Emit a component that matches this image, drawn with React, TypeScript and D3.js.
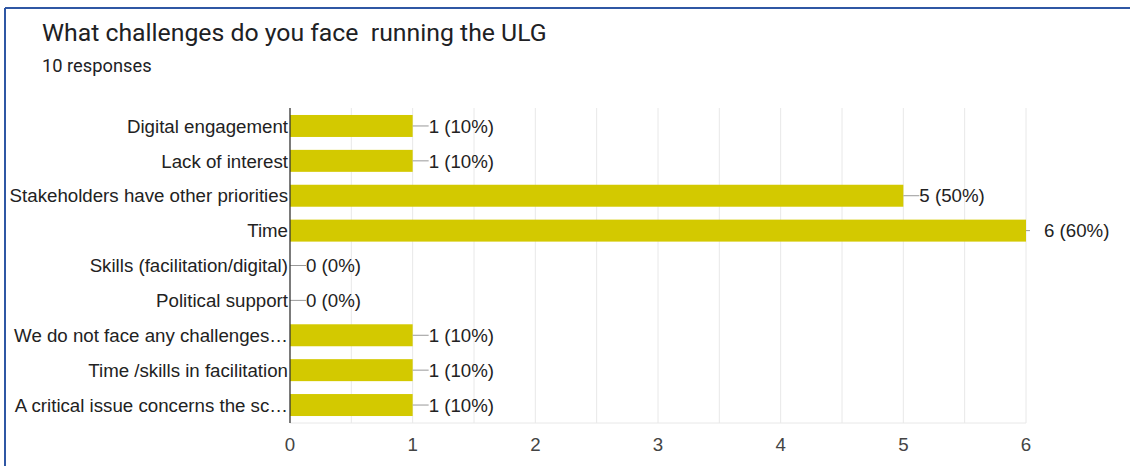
import React, { useEffect, useRef } from "react";
import * as d3 from "d3";

const categories = [
  "Digital engagement",
  "Lack of interest",
  "Stakeholders have other priorities",
  "Time",
  "Skills (facilitation/digital)",
  "Political support",
  "We do not face any challenges…",
  "Time /skills in facilitation",
  "A critical issue concerns the sc…",
];
const counts = [1, 1, 5, 6, 0, 0, 1, 1, 1];
const totalResponses = 10;
const xTicks = [0, 1, 2, 3, 4, 5, 6];

const W = 1130;
const H = 466;
const margin = { left: 290, right: 104, top: 108, bottom: 43 };

export default function App() {
  const ref = useRef<SVGSVGElement>(null);

  useEffect(() => {
    const svg = d3.select(ref.current);
    svg.selectAll("*").remove();

    // card border (top + left only, like the screenshot crop)
    svg.append("line").attr("x1", 5).attr("x2", W).attr("y1", 8).attr("y2", 8)
      .attr("stroke", "#2f57a4").attr("stroke-width", 2);
    svg.append("line").attr("x1", 5).attr("x2", 5).attr("y1", 8).attr("y2", H)
      .attr("stroke", "#2f57a4").attr("stroke-width", 2);

    svg.append("text").attr("x", 42).attr("y", 41)
      .attr("font-family", "Roboto, sans-serif").attr("font-size", 24.8)
      .attr("fill", "#202124").style("white-space", "pre")
      .text("What challenges do you face  running the ULG");
    svg.append("text").attr("x", 42).attr("y", 72)
      .attr("font-family", "Roboto, sans-serif").attr("font-size", 18.3)
      .attr("fill", "#202124")
      .text(`${totalResponses} responses`);

    const x = d3.scaleLinear().domain([0, 6]).range([margin.left, W - margin.right]);
    const y = d3.scaleBand().domain(categories).range([margin.top, H - margin.bottom]).paddingInner(0.37).paddingOuter(0.2);

    const g = svg.append("g").attr("font-family", "'Liberation Sans', Arial, sans-serif");
    const fs = 18.7;

    // gridlines at half steps
    const grid = d3.range(0.5, 6.01, 0.5);
    g.selectAll(".grid").data(grid).join("line")
      .attr("x1", d => x(d)).attr("x2", d => x(d))
      .attr("y1", margin.top).attr("y2", H - margin.bottom)
      .attr("stroke", "#e8e8e8").attr("stroke-width", 1);
    g.append("line").attr("x1", margin.left).attr("x2", x(6))
      .attr("y1", H - margin.bottom).attr("y2", H - margin.bottom)
      .attr("stroke", "#e8e8e8");

    g.selectAll(".bar").data(categories).join("rect")
      .attr("x", margin.left)
      .attr("y", d => y(d)!)
      .attr("width", (d, i) => x(counts[i]) - margin.left)
      .attr("height", y.bandwidth())
      .attr("fill", "#d3c900");

    // leader lines + value labels
    categories.forEach((c, i) => {
      const v = counts[i];
      const cy = y(c)! + y.bandwidth() / 2;
      const xe = x(v);
      const atEdge = v === 6;
      g.append("line").attr("x1", xe).attr("x2", atEdge ? xe + 4 : xe + 16)
        .attr("y1", cy).attr("y2", cy).attr("stroke", "#999");
      g.append("text").attr("x", atEdge ? xe + 18 : xe + 16).attr("y", cy).attr("dy", "0.36em")
        .attr("font-size", fs).attr("fill", "#222")
        .text(`${v} (${Math.round((v / totalResponses) * 100)}%)`);
      g.append("text").attr("x", margin.left - 2).attr("y", cy).attr("dy", "0.36em")
        .attr("text-anchor", "end").attr("font-size", fs).attr("fill", "#222")
        .text(c);
    });

    // y axis line
    g.append("line").attr("x1", margin.left).attr("x2", margin.left)
      .attr("y1", margin.top).attr("y2", H - margin.bottom)
      .attr("stroke", "#333").attr("stroke-width", 1.3);

    g.selectAll(".tick").data(xTicks).join("text")
      .attr("x", d => x(d)).attr("y", H - margin.bottom + 21).attr("dy", "0.36em")
      .attr("text-anchor", "middle").attr("font-size", fs).attr("fill", "#444")
      .text(d => d);
  }, []);

  return (
    <svg ref={ref} width={W} height={H} style={{ position: "absolute", left: 0, top: 0, background: "#fff" }} />
  );
}
